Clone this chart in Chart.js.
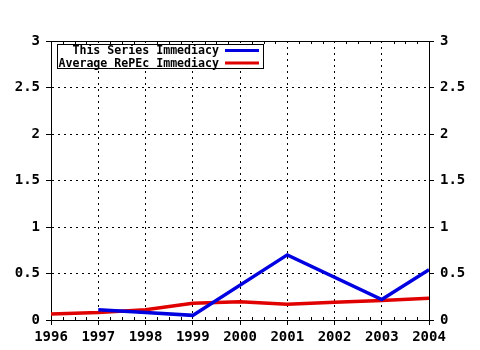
<!DOCTYPE html>
<html>
<head>
<meta charset="utf-8">
<script src="https://cdn.jsdelivr.net/npm/chart.js@4"></script>
<style>
  html, body { margin: 0; padding: 0; background: #fff; }
  #wrap { width: 480px; height: 350px; }
</style>
</head>
<body>
<div id="wrap"><canvas id="myChart" width="480" height="350"></canvas></div>
<script>
let years = [1996, 1997, 1998, 1999, 2000, 2001, 2002, 2003, 2004];
let seriesImmediacy = [null, 0.11, 0.08, 0.05, null, 0.70, null, 0.22, 0.54];
let repecImmediacy = [0.065, 0.08, 0.11, 0.18, 0.195, 0.17, 0.19, 0.21, 0.235];
let yTicks = [0, 0.5, 1, 1.5, 2, 2.5, 3];

const tickFont = { family: "'DejaVu Sans Mono', monospace", size: 14, weight: 'bold' };
const legendFont = "bold 11.6px 'DejaVu Sans Mono', monospace";

function toPoints(arr) {
  let pts = [];
  years.forEach((yr, i) => {
    if (arr[i] !== null) pts.push({ x: yr, y: arr[i] });
  });
  return pts;
}

// minor ticks on top and bottom axes + boxed legend
const extras = {
  id: 'extras',
  afterDraw(chart) {
    const ctx = chart.ctx;
    const xs = chart.scales.x;
    const area = chart.chartArea;
    ctx.save();
    ctx.strokeStyle = '#000';
    ctx.lineWidth = 1;
    for (let i = 0; i < years.length - 1; i++) {
      for (let q = 1; q < 4; q++) {
        let px = Math.round(xs.getPixelForValue(years[i] + q / 4)) + 0.5;
        ctx.beginPath();
        ctx.moveTo(px, area.bottom);
        ctx.lineTo(px, area.bottom - 3);
        ctx.moveTo(px, area.top);
        ctx.lineTo(px, area.top + 3);
        ctx.stroke();
      }
    }
    // legend
    const bx = 57.5, by = 44.5, bw = 206, bh = 24;
    ctx.fillStyle = '#fff';
    ctx.fillRect(bx, by, bw, bh);
    ctx.strokeRect(bx, by, bw, bh);
    ctx.font = legendFont;
    ctx.textAlign = 'right';
    ctx.textBaseline = 'middle';
    chart.data.datasets.forEach((ds, i) => {
      let ly = by + 6 + i * 12.5;
      ctx.fillStyle = '#000';
      ctx.fillText(ds.label, 219, ly + 0.5);
      ctx.strokeStyle = ds.borderColor;
      ctx.lineWidth = 3;
      ctx.beginPath();
      ctx.moveTo(225, ly);
      ctx.lineTo(259, ly);
      ctx.stroke();
    });
    ctx.restore();
  }
};

const fmt = (v) => String(v);

window.onload = function() {
  const ctx = document.getElementById('myChart').getContext('2d');
  new Chart(ctx, {
    type: 'line',
    data: {
      datasets: [
        {
          label: 'This Series Immediacy',
          data: toPoints(seriesImmediacy),
          borderColor: '#0000e0',
          borderWidth: 3.5,
          pointRadius: 0,
          tension: 0
        },
        {
          label: 'Average RePEc Immediacy',
          data: toPoints(repecImmediacy),
          borderColor: '#e00000',
          borderWidth: 3.5,
          pointRadius: 0,
          tension: 0
        }
      ]
    },
    options: {
      responsive: false,
      animation: false,
      layout: { padding: 0 },
      plugins: { legend: { display: false }, tooltip: { enabled: false } },
      scales: {
        x: {
          type: 'linear',
          position: 'bottom',
          min: 1996, max: 2004,
          afterBuildTicks: (s) => { s.ticks = years.map(v => ({ value: v })); },
          afterFit: (s) => { s.height = 30; },
          ticks: { color: '#000', font: tickFont, padding: 4, maxRotation: 0, autoSkip: false,
                   callback: fmt },
          grid: { color: '#000', tickLength: 5, drawOnChartArea: true },
          border: { color: '#000', width: 1, dash: [2, 4] }
        },
        x2: {
          type: 'linear',
          position: 'top',
          min: 1996, max: 2004,
          afterBuildTicks: (s) => { s.ticks = years.map(v => ({ value: v })); },
          afterFit: (s) => { s.height = 41; },
          ticks: { display: false },
          grid: { color: '#000', tickLength: 0, drawOnChartArea: false, drawTicks: false },
          border: { color: '#000', width: 1 }
        },
        y: {
          position: 'left',
          min: 0, max: 3,
          afterBuildTicks: (s) => { s.ticks = yTicks.map(v => ({ value: v })); },
          afterFit: (s) => { s.width = 51; },
          ticks: { color: '#000', font: tickFont, padding: 6, callback: fmt },
          grid: { color: '#000', tickLength: 5, drawOnChartArea: true },
          border: { color: '#000', width: 1, dash: [2, 4] }
        },
        y2: {
          position: 'right',
          min: 0, max: 3,
          afterBuildTicks: (s) => { s.ticks = yTicks.map(v => ({ value: v })); },
          afterFit: (s) => { s.width = 51; },
          ticks: { color: '#000', font: tickFont, padding: 6, callback: fmt },
          grid: { color: '#000', tickLength: 5, drawOnChartArea: false },
          border: { color: '#000', width: 1 }
        }
      }
    },
    plugins: [extras]
  });
};
</script>
</body>
</html>
